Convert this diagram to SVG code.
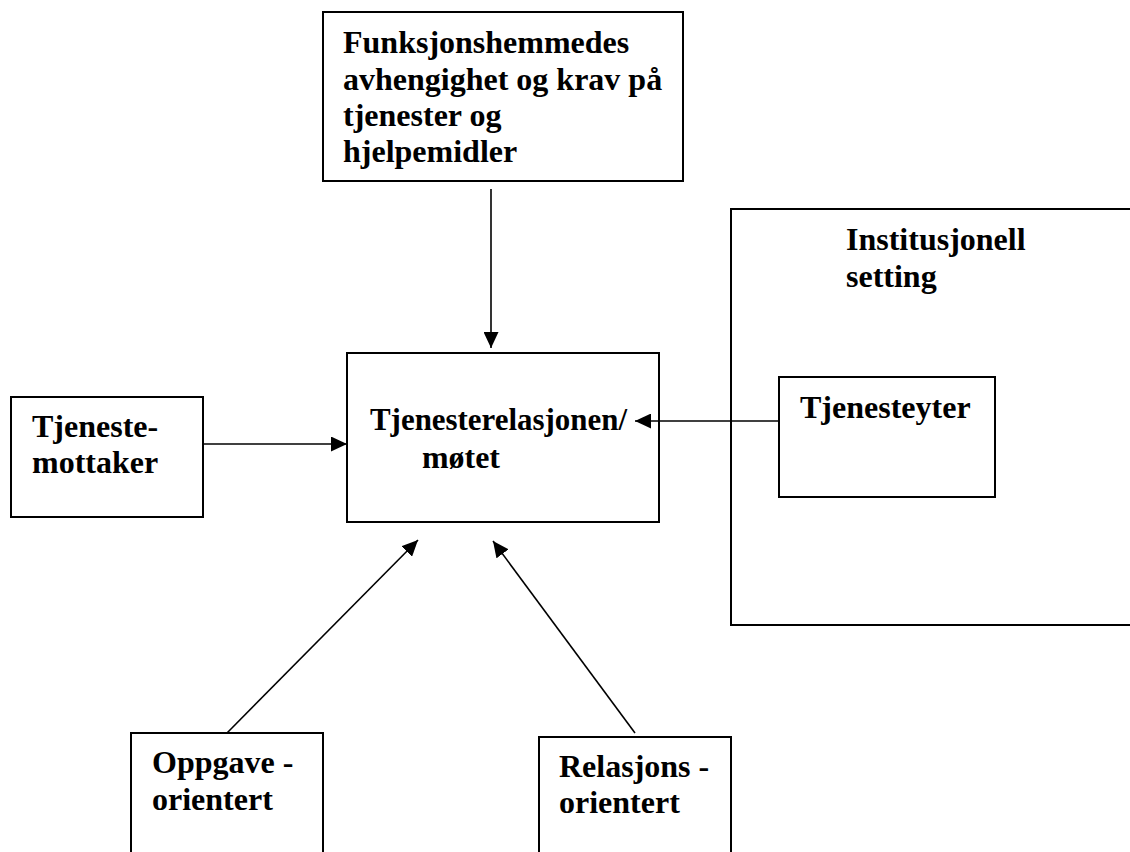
<svg xmlns="http://www.w3.org/2000/svg" width="1130" height="852" viewBox="0 0 1130 852">
  <style>
    .box { fill: #ffffff; stroke: #000000; stroke-width: 2; }
    .frame { fill: none; stroke: #000000; stroke-width: 2; }
    .lbl { font-family: "Liberation Serif", "Times New Roman", serif; font-weight: bold; font-size: 32px; fill: #000000; }
    .conn { stroke: #000000; stroke-width: 1.6; fill: none; marker-end: url(#arrow); }
  </style>
  <defs>
    <marker id="arrow" markerUnits="userSpaceOnUse" markerWidth="16" markerHeight="15" refX="16" refY="7.5" orient="auto">
      <path d="M0,0 L16,7.5 L0,15 z" fill="#000000"/>
    </marker>
  </defs>
  <rect width="1130" height="852" fill="#ffffff"/>

  <g id="institusjonell-setting">
    <path class="frame" d="M1131,209 L731,209 L731,625 L1131,625"/>
    <text class="lbl" x="846" y="250">Institusjonell</text>
    <text class="lbl" x="846" y="287">setting</text>
  </g>

  <g id="funksjonshemmedes">
    <rect class="box" x="323" y="12" width="360" height="169"/>
    <text class="lbl" x="343" y="53">Funksjonshemmedes</text>
    <text class="lbl" x="343" y="90">avhengighet og krav på</text>
    <text class="lbl" x="343" y="126">tjenester og</text>
    <text class="lbl" x="343" y="162">hjelpemidler</text>
  </g>

  <g id="tjenestemottaker">
    <rect class="box" x="11" y="397" width="192" height="120"/>
    <text class="lbl" x="32" y="437">Tjeneste-</text>
    <text class="lbl" x="32" y="473">mottaker</text>
  </g>

  <g id="tjenesterelasjonen">
    <rect class="box" x="347" y="353" width="312" height="169"/>
    <text class="lbl" x="370" y="430" textLength="257" lengthAdjust="spacingAndGlyphs">Tjenesterelasjonen/</text>
    <text class="lbl" x="422" y="468" textLength="78" lengthAdjust="spacingAndGlyphs">møtet</text>
  </g>

  <g id="tjenesteyter">
    <rect class="box" x="779" y="377" width="216" height="120"/>
    <text class="lbl" x="800" y="418">Tjenesteyter</text>
  </g>

  <g id="oppgave-orientert">
    <path class="frame" d="M131,860 L131,733 L323,733 L323,860"/>
    <text class="lbl" x="152" y="773">Oppgave -</text>
    <text class="lbl" x="152" y="810">orientert</text>
  </g>

  <g id="relasjons-orientert">
    <path class="frame" d="M539,860 L539,737 L731,737 L731,860"/>
    <text class="lbl" x="559" y="777">Relasjons -</text>
    <text class="lbl" x="559" y="813">orientert</text>
  </g>

  <g id="connectors">
    <line class="conn" x1="491" y1="189" x2="491" y2="348"/>
    <line class="conn" x1="203" y1="444" x2="347" y2="444"/>
    <line class="conn" x1="779" y1="421" x2="635" y2="421"/>
    <line class="conn" x1="227" y1="733" x2="418" y2="540"/>
    <line class="conn" x1="635" y1="733" x2="493" y2="541"/>
  </g>
</svg>
